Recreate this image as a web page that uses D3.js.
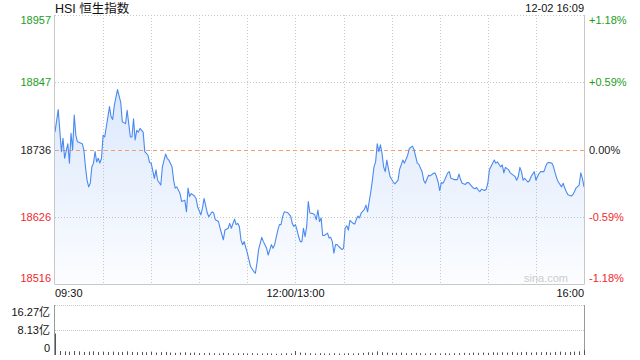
<!DOCTYPE html>
<html><head><meta charset="utf-8">
<script src="https://cdn.jsdelivr.net/npm/d3@7/dist/d3.min.js"></script>
<style>
html,body{margin:0;padding:0;background:#fff;}
svg{display:block;font-family:"Liberation Sans",Arial,"Noto Sans CJK SC",sans-serif;}
</style></head>
<body><svg id="c" width="640" height="360"></svg>
<script>
const title = "HSI 恒生指数";
const stamp = "12-02 16:09";
const prevClose = 18736.44;
// trading minutes since 09:30 (lunch break removed: 150 = 12:00/13:00, 330 = 16:00)
const minutes = [0,2,4,5,6,8,9,10,11,12,13,14,17,18,19,20,21,22,23,24,25,26,27,28,29,30,31,33,34,35,36,37,39,41,42,44,45,46,47,48,49,50,51,52,53,55,56,58,59,60,62,63,64,66,67,69,70,71,73,74,75,76,78,79,81,82,83,84,85,87,88,89,91,92,93,95,96,98,99,100,102,103,105,106,108,109,110,112,113,114,115,116,117,118,120,121,122,124,125,126,127,129,130,132,133,135,136,137,139,140,141,142,143,145,147,148,149,150,151,152,153,154,155,156,157,158,159,161,162,163,164,165,166,167,168,170,171,172,173,174,175,176,177,179,180,181,182,183,184,186,187,188,189,190,191,193,194,195,196,197,198,199,200,201,202,203,204,205,206,207,208,209,211,212,214,215,217,218,220,221,223,224,226,227,229,230,231,233,234,236,237,238,239,240,241,242,243,245,246,247,249,251,252,253,254,256,257,258,260,261,262,263,264,265,266,268,269,270,271,273,274,275,276,278,279,280,281,283,284,286,287,288,289,290,291,292,293,295,296,297,299,300,301,302,303,305,306,307,308,310,311,312,313,314,316,317,318,319,320,322,323,324,325,327,328,329,330];
const prices = [18765,18802,18733,18755,18722,18746,18714,18763,18736,18793,18760,18749,18746,18736,18708,18686,18675,18681,18708,18714,18733,18716,18722,18714,18722,18760,18757,18790,18807,18790,18786,18809,18835,18814,18782,18779,18801,18779,18757,18757,18787,18752,18768,18765,18771,18765,18733,18727,18715,18714,18689,18703,18686,18678,18708,18729,18722,18719,18708,18686,18673,18675,18664,18651,18653,18634,18673,18659,18664,18660,18656,18642,18629,18640,18656,18632,18626,18634,18632,18621,18618,18607,18588,18604,18607,18615,18607,18622,18613,18615,18610,18588,18580,18585,18566,18555,18544,18536,18533,18550,18572,18592,18585,18574,18563,18580,18574,18580,18604,18613,18613,18626,18634,18633,18627,18615,18610,18613,18604,18593,18585,18585,18607,18593,18610,18651,18632,18631,18629,18621,18637,18618,18624,18595,18595,18599,18591,18592,18585,18566,18580,18580,18577,18572,18574,18607,18611,18604,18620,18615,18614,18622,18627,18624,18632,18638,18645,18634,18651,18667,18686,18708,18716,18746,18733,18744,18730,18708,18700,18719,18705,18692,18683,18680,18686,18704,18719,18714,18727,18738,18742,18736,18714,18712,18700,18686,18681,18694,18693,18697,18698,18692,18683,18669,18682,18681,18686,18698,18700,18689,18687,18687,18696,18687,18681,18679,18682,18682,18676,18673,18672,18674,18670,18667,18671,18669,18671,18681,18703,18714,18719,18714,18716,18708,18711,18698,18707,18703,18698,18694,18692,18686,18692,18707,18700,18686,18689,18683,18685,18692,18700,18686,18692,18697,18700,18700,18708,18714,18715,18714,18708,18698,18689,18683,18675,18681,18673,18667,18662,18660,18662,18667,18673,18678,18698,18689,18675];
// volume (亿) every 3 trading minutes
const volMinutes = d3.range(0, 331, 3);
const volumes = [7.0,
 1.3,1.2,1.1,1.3,1.2,1.0,1.1,1.2,1.0,1.1,
 1.0,1.1,0.9,1.0,1.2,1.0,0.9,1.0,0.9,1.1,
 0.8,0.9,1.0,0.8,0.7,0.8,0.9,0.7,0.8,0.6,
 0.6,0.7,0.6,0.5,0.7,0.6,0.5,0.6,0.6,0.5,
 0.6,0.5,0.5,0.6,0.5,0.4,0.5,0.6,0.5,1.3,
 0.8,0.7,0.6,0.5,0.6,0.5,0.5,0.6,0.5,0.5,
 0.6,0.5,0.6,0.7,0.9,0.8,1.2,0.9,0.8,0.7,
 0.7,0.8,0.6,0.6,0.7,0.6,0.5,0.6,0.6,0.5,
 0.6,0.5,0.6,0.6,0.7,0.6,0.8,0.7,0.8,0.7,
 0.9,0.8,0.9,0.8,1.0,0.8,0.9,1.0,0.8,0.9,
 0.9,1.0,0.8,1.0,1.1,0.9,1.0,1.1,1.2,1.6];
const priceTicks = [18957,18847,18736,18626,18516];
const pctTicks = ["+1.18%","+0.59%","0.00%","-0.59%","-1.18%"];
const timeTicks = [0,150,330];
const timeLabels = ["09:30","12:00/13:00","16:00"];
const volTicks = [16.27,8.13,0];
const volLabels = ["16.27亿","8.13亿","0"];

const svg = d3.select("#c");
const L = 55, R = 584, T = 15, B = 284;
const VT = 305, VB = 355;
const x = d3.scaleLinear().domain([0,330]).range([L,R]);
const y = d3.scaleLinear().domain([prevClose*(1-0.0118), prevClose*(1+0.0118)]).range([B,T]);
const yv = d3.scaleLinear().domain([0,16.27]).range([VB,VT]);

const green = "#1a9e1a", red = "#f0282d", black = "#222";
const colorOf = i => i < 2 ? green : (i === 2 ? black : red);

// gradient
const defs = svg.append("defs");
const g = defs.append("linearGradient").attr("id","fillg").attr("gradientUnits","userSpaceOnUse")
  .attr("x1",0).attr("y1",T+70).attr("x2",0).attr("y2",B);
g.append("stop").attr("offset","0").attr("stop-color","#4a8af0").attr("stop-opacity",0.2);
g.append("stop").attr("offset","1").attr("stop-color","#4a8af0").attr("stop-opacity",0.02);

// grid: vertical
const vgrid = d3.range(30, 330, 30);
svg.append("g").selectAll("line").data(vgrid).join("line")
  .attr("x1", d=>Math.round(x(d))+0.5).attr("x2", d=>Math.round(x(d))+0.5)
  .attr("y1", T).attr("y2", B)
  .attr("stroke","#c8c8c8").attr("stroke-dasharray","1,2");
// horizontal grid
svg.append("g").selectAll("line").data([0,1,3]).join("line")
  .attr("x1", L).attr("x2", R)
  .attr("y1", i=>Math.round(y(priceTicks[i]))+0.5).attr("y2", i=>Math.round(y(priceTicks[i]))+0.5)
  .attr("stroke","#c8c8c8").attr("stroke-dasharray","1,2");

// area + line
const pts = minutes.map((m,i)=>[m,prices[i]]);
svg.append("path").datum(pts)
  .attr("d", d3.area().x(d=>x(d[0])).y0(B).y1(d=>y(d[1])))
  .attr("fill","url(#fillg)");
// prev close dashed
svg.append("line").attr("x1",L).attr("x2",R)
  .attr("y1",Math.round(y(prevClose))+0.5).attr("y2",Math.round(y(prevClose))+0.5)
  .attr("stroke","#f0a070").attr("stroke-dasharray","4,3");
svg.append("path").datum(pts)
  .attr("d", d3.line().x(d=>x(d[0])).y(d=>y(d[1])))
  .attr("fill","none").attr("stroke","#4a8af0").attr("stroke-width",1.1).attr("stroke-linejoin","round");

// borders
svg.append("line").attr("x1",L-0.5).attr("x2",L-0.5).attr("y1",T).attr("y2",B).attr("stroke","#c8c8c8");
svg.append("line").attr("x1",R+0.5).attr("x2",R+0.5).attr("y1",T).attr("y2",B).attr("stroke","#c8c8c8");
svg.append("line").attr("x1",L-0.5).attr("x2",R+0.5).attr("y1",B+0.5).attr("y2",B+0.5).attr("stroke","#c8c8c8");

// watermark
svg.append("text").attr("x",568).attr("y",282).attr("text-anchor","end")
  .attr("font-size",11).attr("fill","#cccccc").text("sina.com");

// left labels
svg.append("g").selectAll("text").data(priceTicks).join("text")
  .attr("x",51).attr("y",(d,i)=>{const yy=y(d); return Math.min(Math.max(yy,T+5),B-6)+4;})
  .attr("text-anchor","end").attr("font-size",11).attr("fill",(d,i)=>colorOf(i)).text(d=>d);
// right labels
svg.append("g").selectAll("text").data(priceTicks).join("text")
  .attr("x",589).attr("y",(d,i)=>{const yy=y(d); return Math.min(Math.max(yy,T+5),B-6)+4;})
  .attr("text-anchor","start").attr("font-size",11).attr("fill",(d,i)=>colorOf(i)).text((d,i)=>pctTicks[i]);

// title and stamp
svg.append("text").attr("x",55).attr("y",13).attr("font-size",12.5).attr("fill","#111").text(title);
svg.append("text").attr("x",584).attr("y",12).attr("text-anchor","end").attr("font-size",11).attr("fill","#111").text(stamp);

// time labels
svg.append("g").selectAll("text").data(timeTicks).join("text")
  .attr("x",d=>x(d)).attr("y",297)
  .attr("text-anchor",(d,i)=> i===0?"start":(i===timeTicks.length-1?"end":"middle"))
  .attr("font-size",11).attr("fill","#111").text((d,i)=>timeLabels[i]);

// volume panel
svg.append("g").selectAll("line").data([16.27,8.13]).join("line")
  .attr("x1",L).attr("x2",R).attr("y1",d=>Math.round(yv(d))+0.5).attr("y2",d=>Math.round(yv(d))+0.5)
  .attr("stroke","#c8c8c8").attr("stroke-dasharray","1,1");
svg.append("line").attr("x1",L-0.5).attr("x2",L-0.5).attr("y1",VT).attr("y2",VB).attr("stroke","#999");
svg.append("line").attr("x1",R+0.5).attr("x2",R+0.5).attr("y1",VT).attr("y2",VB).attr("stroke","#999");
svg.append("g").selectAll("rect").data(volMinutes).join("rect")
  .attr("x",d=>Math.round(x(d))).attr("width",1)
  .attr("y",(d,i)=>yv(volumes[i])).attr("height",(d,i)=>VB-yv(volumes[i]))
  .attr("fill","#555");
svg.append("g").selectAll("text").data(volTicks).join("text")
  .attr("x",50).attr("y",(d,i)=>[316,334,352][i])
  .attr("text-anchor","end").attr("font-size",11).attr("fill","#111").text((d,i)=>volLabels[i]);
</script></body></html>
